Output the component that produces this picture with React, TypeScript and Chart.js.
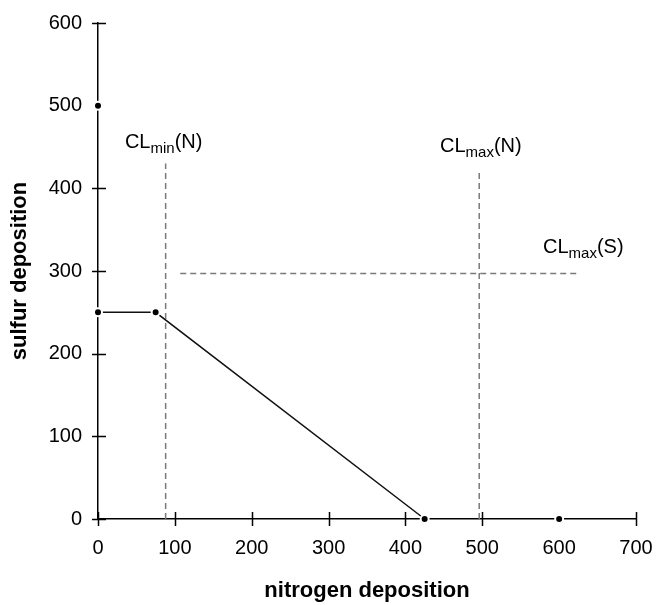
import React, { useEffect, useRef } from "react";
import { Chart, registerables } from "chart.js";

Chart.register(...registerables);

// Critical load function (solid line with markers)
const clfX = [0, 75, 425];
const clfY = [250, 250, 0];
// Separate markers on the axes
const markerX = [0, 600];
const markerY = [500, 0];
// Dashed reference lines
const clMinNX = [88, 88];
const clMinNY = [0, 430];
const clMaxNX = [496, 496];
const clMaxNY = [0, 422];
const clMaxSX = [107, 627];
const clMaxSY = [297, 297];
// Axis ticks
const xTickValues = [0, 100, 200, 300, 400, 500, 600, 700];
const yTickValues = [0, 100, 200, 300, 400, 500, 600];
// Annotation labels: main text, subscript, suffix, anchor (data units)
const labelMain = ["CL", "CL", "CL"];
const labelSub = ["min", "max", "max"];
const labelSuffix = ["(N)", "(N)", "(S)"];
const labelX = [35, 445, 579];
const labelY = [449, 444, 322];

const toPts = (xs: number[], ys: number[]) => xs.map((x, i) => ({ x, y: ys[i] }));

const FONT = '"Liberation Sans", Arial, sans-serif';

const decorPlugin = {
  id: "decor",
  beforeDatasetsDraw(chart: any) {
    const { ctx, scales } = chart;
    const xs = scales.x;
    const ys = scales.y;
    const x0 = xs.getPixelForValue(0);
    const y0 = ys.getPixelForValue(0);
    ctx.save();
    ctx.strokeStyle = "#000";
    ctx.lineWidth = 1.5;
    ctx.beginPath();
    xTickValues.forEach((v) => {
      if (markerY.some((m, i) => m === 0 && markerX[i] === v && v !== 0)) return;
      const px = Math.round(xs.getPixelForValue(v)) + 0.5;
      ctx.moveTo(px, y0 - 7);
      ctx.lineTo(px, y0 + 7);
    });
    yTickValues.forEach((v) => {
      if (markerX.some((m, i) => m === 0 && markerY[i] === v && v !== 0)) return;
      const py = Math.round(ys.getPixelForValue(v)) + 0.5;
      ctx.moveTo(x0 - 6, py);
      ctx.lineTo(x0 + 8, py);
    });
    ctx.stroke();
    ctx.restore();
  },
  afterDraw(chart: any) {
    const { ctx, scales } = chart;
    ctx.save();
    ctx.fillStyle = "#000";
    ctx.textBaseline = "alphabetic";
    ctx.textAlign = "left";
    labelMain.forEach((m, i) => {
      let px = scales.x.getPixelForValue(labelX[i]);
      const py = scales.y.getPixelForValue(labelY[i]);
      ctx.font = `20px ${FONT}`;
      ctx.fillText(m, px, py);
      px += ctx.measureText(m).width;
      ctx.font = `15px ${FONT}`;
      ctx.fillText(labelSub[i], px, py + 5);
      px += ctx.measureText(labelSub[i]).width;
      ctx.font = `20px ${FONT}`;
      ctx.fillText(labelSuffix[i], px, py);
    });
    ctx.restore();
  },
};

export default function App() {
  const ref = useRef<HTMLCanvasElement>(null);
  useEffect(() => {
    if (!ref.current) return;
    const dashed = {
      borderColor: "#7a7a7a",
      borderWidth: 1.5,
      borderDash: [6, 4],
      pointRadius: 0,
      showLine: true,
      clip: false as any,
    };
    const chart = new Chart(ref.current, {
      type: "scatter",
      data: {
        datasets: [
          { ...dashed, data: toPts(clMinNX, clMinNY) },
          { ...dashed, data: toPts(clMaxNX, clMaxNY) },
          { ...dashed, data: toPts(clMaxSX, clMaxSY) },
          {
            data: toPts(clfX, clfY),
            showLine: true,
            borderColor: "#111",
            borderWidth: 1.5,
            pointRadius: 4,
            pointBackgroundColor: "#000",
            pointBorderColor: "#fff",
            pointBorderWidth: 2,
            clip: false as any,
          },
          {
            data: toPts(markerX, markerY),
            showLine: false,
            pointRadius: 4,
            pointBackgroundColor: "#000",
            pointBorderColor: "#fff",
            pointBorderWidth: 2,
            clip: false as any,
          },
        ],
      },
      options: {
        animation: false,
        responsive: false,
        events: [],
        layout: { padding: { left: 0, right: 20, top: 23, bottom: 0 } },
        plugins: { legend: { display: false }, tooltip: { enabled: false } },
        scales: {
          x: {
            type: "linear",
            min: 0,
            max: 700,
            ticks: {
              stepSize: 100,
              color: "#000",
              font: { family: FONT, size: 20 },
              padding: 17,
              maxRotation: 0,
            },
            grid: { display: false, drawTicks: false },
            border: { display: true, color: "#000", width: 1.5 },
            title: {
              display: true,
              text: "nitrogen deposition",
              color: "#000",
              font: { family: FONT, size: 22, weight: "bold" },
              padding: { top: 0, bottom: 1 },
            },
            afterFit: (s: any) => {
              s.height = 86;
              s.paddingLeft = 0;
              s.paddingRight = 0;
            },
          },
          y: {
            type: "linear",
            min: 0,
            max: 600,
            ticks: {
              stepSize: 100,
              color: "#000",
              font: { family: FONT, size: 20 },
              padding: 16,
            },
            grid: { display: false, drawTicks: false },
            border: { display: true, color: "#000", width: 1.5 },
            title: {
              display: true,
              text: "sulfur deposition",
              color: "#000",
              font: { family: FONT, size: 22, weight: "bold" },
              padding: { top: 7, bottom: 0 },
            },
            afterFit: (s: any) => {
              s.width = 98;
              s.paddingTop = 0;
              s.paddingBottom = 0;
            },
          },
        },
      },
      plugins: [decorPlugin],
    });
    return () => chart.destroy();
  }, []);
  return (
    <div style={{ position: "absolute", left: 0, top: 0, width: 656, height: 605, background: "#fff" }}>
      <canvas ref={ref} width={656} height={605} style={{ display: "block" }} />
    </div>
  );
}
